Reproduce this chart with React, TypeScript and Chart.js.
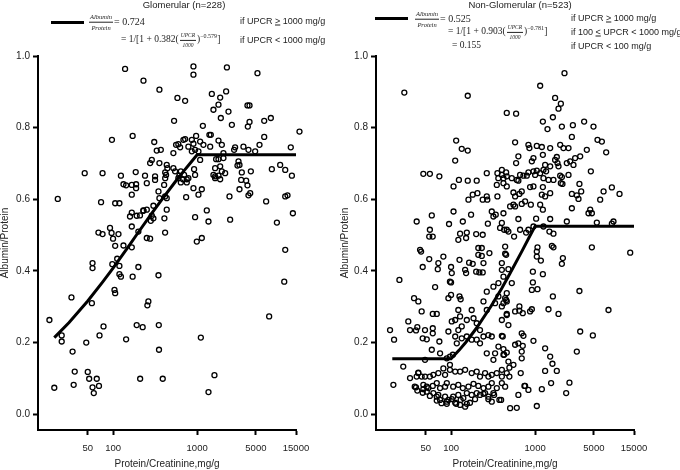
import React, { useEffect, useRef } from 'react';
import { Chart, registerables } from 'chart.js';

Chart.register(...registerables);

// axis ticks
const xTicks = [50, 100, 1000, 5000, 15000];
const yTicks = [0, 0.2, 0.4, 0.6, 0.8, 1.0];

// Glomerular (n=228): [UPCR mg/g, albumin/protein]
const glomPoints: [number, number][] = [
  [139, 0.964], [230, 0.931], [356, 0.906], [97, 0.766], [171, 0.777], [309, 0.76], [331, 0.736], [370, 0.738],
  [289, 0.71], [276, 0.701], [356, 0.701], [435, 0.696], [46, 0.673], [75, 0.673], [124, 0.666], [186, 0.676],
  [240, 0.666], [316, 0.664], [316, 0.654], [133, 0.642], [143, 0.639], [167, 0.64], [188, 0.642], [188, 0.631],
  [252, 0.645], [167, 0.613], [347, 0.622], [356, 0.603], [416, 0.608], [435, 0.603], [22, 0.601], [72, 0.592],
  [106, 0.589], [119, 0.589], [302, 0.582], [252, 0.571], [229, 0.569], [435, 0.571], [167, 0.563], [159, 0.552],
  [191, 0.554], [209, 0.555], [230, 0.568], [289, 0.554], [302, 0.547], [281, 0.54], [167, 0.524], [92, 0.52],
  [96, 0.506], [116, 0.503], [67, 0.507], [75, 0.503], [100, 0.49], [133, 0.471], [106, 0.47], [252, 0.492],
  [276, 0.49], [200, 0.51], [416, 0.507],
  [17.5, 0.263], [167, 0.466], [112, 0.434], [119, 0.414], [98, 0.419], [119, 0.391], [124, 0.384], [57, 0.422],
  [57, 0.408], [200, 0.411], [171, 0.384], [347, 0.388], [104, 0.347], [106, 0.338], [32, 0.326], [56, 0.31],
  [263, 0.315], [256, 0.304], [77, 0.245], [191, 0.249], [225, 0.243], [350, 0.249], [24.5, 0.22], [24.5, 0.203],
  [69, 0.22], [143, 0.209], [48, 0.2], [352, 0.18], [33, 0.175], [35, 0.119], [50, 0.118], [52, 0.099],
  [64, 0.099], [210, 0.099], [390, 0.099], [34, 0.082], [20, 0.074], [57, 0.075], [68, 0.079], [59, 0.059],
  [1365, 0.062],
  [904, 0.971], [904, 0.948], [2260, 0.968], [5220, 0.952], [583, 0.883], [720, 0.875], [1496, 0.894], [1880, 0.884],
  [2213, 0.901], [1563, 0.85], [1795, 0.864], [2360, 0.845], [1914, 0.827], [3970, 0.862], [4200, 0.862], [532, 0.819],
  [1170, 0.805], [2590, 0.808], [4200, 0.816], [4010, 0.803], [6280, 0.819], [7530, 0.827], [16500, 0.789], [6280, 0.774],
  [13000, 0.745], [1400, 0.78], [1455, 0.78], [973, 0.777], [865, 0.766], [720, 0.768], [687, 0.766], [598, 0.754],
  [562, 0.752], [628, 0.745], [787, 0.747], [904, 0.755], [1086, 0.761], [1188, 0.752], [946, 0.738], [865, 0.734],
  [1037, 0.734], [1430, 0.747], [1795, 0.764], [1968, 0.752], [2830, 0.745], [2755, 0.738], [3555, 0.747], [4080, 0.738],
  [4900, 0.734], [5520, 0.752], [522, 0.729], [2056, 0.729], [1683, 0.712], [1795, 0.712], [2056, 0.715],
  [1086, 0.71], [3105, 0.706], [3190, 0.696], [3020, 0.694], [443, 0.687], [417, 0.675], [427, 0.668], [417, 0.659],
  [405, 0.64], [522, 0.687], [547, 0.678], [640, 0.678], [615, 0.666], [598, 0.659], [700, 0.668], [676, 0.656],
  [753, 0.656], [640, 0.647], [753, 0.647], [946, 0.668], [920, 0.684], [1637, 0.687], [1880, 0.692], [1968, 0.678],
  [1795, 0.666], [1637, 0.664], [1563, 0.668], [2155, 0.673], [1637, 0.659], [1880, 0.656], [787, 0.659], [904, 0.631],
  [740, 0.606], [1037, 0.613], [1137, 0.628], [3400, 0.675], [4355, 0.678], [3340, 0.654], [3830, 0.652], [3970, 0.639],
  [4280, 0.617], [4080, 0.611], [3190, 0.628], [2425, 0.608], [7740, 0.684], [9720, 0.696], [11170, 0.682], [13400, 0.666],
  [6620, 0.594], [11170, 0.608], [11890, 0.611], [13770, 0.561], [8890, 0.535], [408, 0.547], [946, 0.55], [1303, 0.569],
  [1365, 0.538], [2470, 0.543], [1137, 0.492], [991, 0.482], [11170, 0.459], [17600, 0.462],
  [10870, 0.37], [7190, 0.273], [1107, 0.214], [1607, 0.109],
];

// fitted line, glomerular
const glomFit: [number, number][] = [
  [20, 0.214], [30, 0.256], [50, 0.316], [75, 0.369], [100, 0.408], [150, 0.466], [200, 0.508],
  [300, 0.566], [400, 0.606], [550, 0.649], [700, 0.68], [850, 0.704], [1000, 0.724], [15000, 0.724],
];

// Non-Glomerular (n=523)
const nonGlomPoints: [number, number][] = [
  [27.8, 0.898], [158, 0.889], [460, 0.841], [115, 0.764], [134, 0.741], [158, 0.736], [112, 0.708], [46.8, 0.671],
  [56, 0.671], [72.6, 0.664], [107, 0.636], [124, 0.654], [158, 0.652], [202, 0.652], [266, 0.673], [356, 0.673],
  [402, 0.682], [452, 0.675], [365, 0.659], [350, 0.64], [420, 0.645], [460, 0.664], [161, 0.599], [181, 0.613],
  [206, 0.617], [238, 0.599], [270, 0.599], [266, 0.608], [356, 0.608], [59, 0.555], [39, 0.538], [56, 0.515],
  [55, 0.496], [60.5, 0.496], [94.6, 0.531], [107, 0.566], [138, 0.538], [173, 0.557], [128, 0.504], [154, 0.507],
  [151, 0.492], [122, 0.487], [199, 0.503], [238, 0.501], [274, 0.532], [305, 0.566], [319, 0.552], [340, 0.557],
  [420, 0.561], [402, 0.534], [460, 0.515], [440, 0.468], [211, 0.464], [232, 0.464], [42.8, 0.459],
  [44, 0.454], [55, 0.433], [46, 0.411], [70.6, 0.422], [69.5, 0.405], [81, 0.44], [100, 0.411], [102, 0.394],
  [126, 0.431], [147, 0.403], [151, 0.394], [164, 0.423], [181, 0.42], [211, 0.445], [232, 0.442], [243, 0.422],
  [199, 0.398], [217, 0.396], [286, 0.45], [238, 0.396], [452, 0.445], [24.3, 0.375], [97, 0.37], [100, 0.368],
  [100, 0.333], [93, 0.324], [64.6, 0.355], [126, 0.329], [130, 0.321], [176, 0.291], [243, 0.315], [266, 0.342],
  [319, 0.356], [366, 0.366], [420, 0.384], [366, 0.329], [266, 0.291], [334, 0.31], [452, 0.319], [460, 0.277],
  [412, 0.217], [481, 0.249], [36.3, 0.324], [40.8, 0.315], [31, 0.259], [32.5, 0.235], [39.7, 0.243], [38.3, 0.234],
  [49, 0.235], [44.7, 0.287], [60.6, 0.28], [67.6, 0.28], [46, 0.212], [51.4, 0.209], [60.6, 0.24], [60.6, 0.226],
  [72.6, 0.203], [93, 0.231], [102, 0.259], [112, 0.263], [122, 0.235], [122, 0.291], [128, 0.273], [134, 0.245],
  [154, 0.263], [185, 0.268], [202, 0.254], [221, 0.235], [18.8, 0.235], [21, 0.208], [27, 0.133], [20.6, 0.082],
  [32.5, 0.101], [39, 0.105], [40.8, 0.116], [49, 0.152], [59, 0.18], [74, 0.17], [89, 0.156], [97, 0.161],
  [105, 0.166], [81, 0.128], [97, 0.138], [112, 0.217], [117, 0.198], [134, 0.212], [154, 0.217], [176, 0.208],
  [202, 0.208], [221, 0.198], [243, 0.217], [278, 0.221], [305, 0.217], [266, 0.17], [334, 0.17], [366, 0.189],
  [319, 0.152], [420, 0.166], [481, 0.147],
  [40.8, 0.115], [44.7, 0.105], [49, 0.105], [56, 0.105], [61.6, 0.11], [70.6, 0.115], [84.9, 0.11], [97, 0.124],
  [112, 0.119], [128, 0.119], [147, 0.124], [176, 0.115], [202, 0.119], [221, 0.105], [254, 0.115], [278, 0.105],
  [305, 0.11], [350, 0.115], [402, 0.105], [460, 0.115], [37, 0.077], [46.8, 0.082], [53.7, 0.073], [60.6, 0.079],
  [67.6, 0.087], [74, 0.073], [84.9, 0.077], [89, 0.087], [106, 0.077], [122, 0.082], [138, 0.073], [161, 0.077],
  [185, 0.085], [211, 0.079], [243, 0.073], [278, 0.077], [305, 0.087], [350, 0.073], [440, 0.077], [51.4, 0.063],
  [61.6, 0.059], [67.6, 0.049], [74, 0.04], [84.9, 0.049], [93, 0.04], [106, 0.049], [122, 0.054], [140, 0.045],
  [154, 0.059], [176, 0.054], [202, 0.059], [243, 0.057], [278, 0.049], [319, 0.059], [376, 0.04], [77, 0.031],
  [89, 0.029], [112, 0.032], [128, 0.026], [147, 0.021], [154, 0.029],
  [38.3, 0.075], [39.7, 0.066], [46.8, 0.07], [51.4, 0.077], [46, 0.06], [56, 0.051], [70.6, 0.054], [67.6, 0.038],
  [89, 0.035], [102, 0.042], [115, 0.029], [130, 0.04], [168, 0.032], [193, 0.042], [221, 0.054], [254, 0.059],
  [278, 0.042], [305, 0.035], [325, 0.054], [394, 0.04], [504, 0.017], [605, 0.018], [632, 0.054], [746, 0.079],
  [832, 0.068], [1047, 0.023], [1202, 0.07], [1549, 0.087], [2340, 0.059], [2560, 0.088], [402, 0.087],
  [2235, 0.952], [1148, 0.917], [1729, 0.883], [2023, 0.867], [1897, 0.853], [594, 0.839], [1626, 0.829], [1236, 0.817],
  [1403, 0.796], [2080, 0.803], [2812, 0.807], [3828, 0.817], [4945, 0.803], [2735, 0.774], [5520, 0.766], [6220, 0.761],
  [7000, 0.731], [4120, 0.738], [3436, 0.72], [2992, 0.715], [2612, 0.706], [2382, 0.701], [2858, 0.696], [4600, 0.678],
  [2495, 0.668], [3365, 0.643], [2735, 0.615], [3532, 0.622], [3133, 0.611], [3280, 0.601], [5940, 0.599], [8180, 0.633],
  [10090, 0.615], [6520, 0.622], [2735, 0.575], [4315, 0.561], [4520, 0.571], [4730, 0.561], [2382, 0.538], [5420, 0.535],
  [8550, 0.538], [8180, 0.532], [578, 0.759], [832, 0.752], [855, 0.743], [1047, 0.749], [1202, 0.746], [1510, 0.743],
  [1986, 0.752], [2173, 0.743], [2495, 0.743], [632, 0.72], [594, 0.701], [955, 0.715], [914, 0.706], [1236, 0.724],
  [1811, 0.718], [1729, 0.71], [1845, 0.701], [1897, 0.692], [1510, 0.692], [1315, 0.696], [1256, 0.682], [1047, 0.68],
  [955, 0.678], [832, 0.675], [662, 0.668], [726, 0.666], [796, 0.666], [528, 0.659], [402, 0.668], [420, 0.659],
  [460, 0.636], [605, 0.654], [632, 0.652], [1000, 0.668], [1148, 0.673], [1352, 0.678], [1442, 0.654], [1652, 0.654],
  [1986, 0.666], [2080, 0.662], [2023, 0.645], [2113, 0.643], [1256, 0.659], [955, 0.636], [871, 0.634], [1236, 0.634],
  [1202, 0.613], [1510, 0.617], [1315, 0.608], [693, 0.622], [650, 0.615], [578, 0.608], [552, 0.619], [760, 0.594],
  [693, 0.587], [552, 0.585], [504, 0.58], [578, 0.58], [889, 0.585], [1148, 0.585], [1236, 0.571], [1028, 0.546],
  [1510, 0.545], [632, 0.545], [383, 0.52], [428, 0.515], [481, 0.51], [662, 0.515], [781, 0.507], [832, 0.515],
  [955, 0.524], [1479, 0.51], [1652, 0.504], [562, 0.496], [1256, 0.524], [1067, 0.466], [1582, 0.47], [1652, 0.466],
  [4730, 0.466],
  [440, 0.448], [402, 0.422], [402, 0.403], [481, 0.405], [528, 0.366], [460, 0.338], [440, 0.324], [460, 0.315],
  [402, 0.301], [420, 0.31], [402, 0.263], [460, 0.28], [578, 0.287], [650, 0.301], [713, 0.282], [650, 0.289],
  [914, 0.293], [871, 0.287], [1047, 0.454], [1047, 0.44], [1170, 0.429], [2138, 0.436], [2080, 0.42], [13520, 0.451],
  [940, 0.398], [1236, 0.391], [940, 0.368], [914, 0.347], [1067, 0.349], [1626, 0.329], [3365, 0.344], [1442, 0.293],
  [1897, 0.28], [7460, 0.291], [3436, 0.231], [4860, 0.22], [3133, 0.175], [402, 0.219], [693, 0.226], [726, 0.219],
  [955, 0.205], [578, 0.194], [632, 0.198], [713, 0.191], [420, 0.182], [460, 0.172], [428, 0.166], [693, 0.175],
  [693, 0.156], [1315, 0.184], [1510, 0.161], [1607, 0.141], [1811, 0.121], [1315, 0.121], [760, 0.079], [402, 0.124],
  [552, 0.138], [494, 0.13], [494, 0.105], [674, 0.115],
];

// fitted line, non-glomerular
const nonGlomFit: [number, number][] = [
  [20, 0.155], [100, 0.155], [125, 0.179], [150, 0.201], [200, 0.24], [300, 0.302], [400, 0.351],
  [500, 0.392], [700, 0.456], [850, 0.494], [1000, 0.525], [15000, 0.525],
];

const SANS = '"Liberation Sans", Arial, sans-serif';
const SERIF = '"Liberation Serif", "Times New Roman", serif';
const INK = '#222';

Chart.defaults.font.family = SANS;

interface PanelProps {
  points: [number, number][];
  fit: [number, number][];
  yWidth: number;
  padRight: number;
}

const ScatterPanel: React.FC<PanelProps> = ({ points, fit, yWidth, padRight }) => {
  const chartRef = useRef<HTMLCanvasElement>(null);

  useEffect(() => {
    if (!chartRef.current) return;
    const chart = new Chart(chartRef.current, {
      type: 'scatter',
      data: {
        datasets: [
          {
            data: fit.map(([x, y]) => ({ x, y })),
            showLine: true,
            borderColor: '#000',
            borderWidth: 3,
            pointRadius: 0,
            borderJoinStyle: 'miter',
            clip: false,
          },
          {
            data: points.map(([x, y]) => ({ x, y })),
            pointStyle: 'circle',
            pointRadius: 2.5,
            pointBorderWidth: 1.3,
            pointBorderColor: '#000',
            pointBackgroundColor: 'rgba(0,0,0,0)',
            showLine: false,
            clip: false,
          },
        ],
      },
      options: {
        responsive: false,
        animation: false,
        events: [],
        layout: { padding: { top: 56, right: padRight, left: 0, bottom: 0 } },
        plugins: { legend: { display: false }, tooltip: { enabled: false } },
        scales: {
          x: {
            type: 'logarithmic',
            min: 12.8,
            max: 15000,
            afterBuildTicks: (s: any) => {
              s.ticks = xTicks.map(v => ({ value: v }));
            },
            afterFit: (s: any) => {
              s.height = 40;
            },
            ticks: {
              callback: (v: any) => String(v),
              font: { size: 9.5 },
              color: INK,
              padding: 8,
              autoSkip: false,
              maxRotation: 0,
            },
            grid: { display: true, drawOnChartArea: false, drawTicks: true, tickLength: 5, tickWidth: 2, tickColor: '#000' },
            border: { display: true, color: '#000', width: 2 },
            title: {
              display: true,
              text: 'Protein/Creatinine,mg/g',
              font: { size: 10 },
              color: INK,
              padding: { top: 0, bottom: 0 },
            },
          },
          y: {
            type: 'linear',
            min: -0.044,
            max: 1.0,
            afterBuildTicks: (s: any) => {
              s.ticks = yTicks.map(v => ({ value: v }));
            },
            afterFit: (s: any) => {
              s.width = yWidth;
            },
            ticks: {
              callback: (v: any) => Number(v).toFixed(1),
              font: { size: 10 },
              color: INK,
              padding: 3,
            },
            grid: { display: true, drawOnChartArea: false, drawTicks: true, tickLength: 5, tickWidth: 2, tickColor: '#000' },
            border: { display: true, color: '#000', width: 2 },
            title: {
              display: true,
              text: 'Albumin/Protein',
              font: { size: 10 },
              color: INK,
              padding: { top: -1, bottom: 0 },
            },
          },
        },
      },
    });

    return () => {
      chart.destroy();
    };
  }, [points, fit, yWidth, padRight]);

  return <canvas ref={chartRef} width={340} height={470} style={{ display: 'block', width: 340, height: 470 }} />;
};

const Txt: React.FC<{
  x: number; y: number; center?: boolean; row?: boolean; size?: number; serif?: boolean; children: React.ReactNode;
}> = ({ x, y, center, row, size = 9, serif, children }) => (
  <div
    style={{
      position: 'absolute',
      left: x,
      top: y,
      transform: center ? 'translate(-50%, -50%)' : 'translateY(-50%)',
      whiteSpace: 'pre',
      fontSize: size,
      lineHeight: 1,
      fontFamily: serif ? SERIF : SANS,
      display: row ? 'flex' : 'block',
      alignItems: 'center',
      color: INK,
    }}
  >
    {children}
  </div>
);

const Frac: React.FC<{ num: string; den: string; size: number }> = ({ num, den, size }) => (
  <span
    style={{
      display: 'inline-flex',
      flexDirection: 'column',
      alignItems: 'center',
      fontStyle: 'italic',
      fontFamily: SERIF,
      fontSize: size,
      lineHeight: 1.2,
      margin: '0 1px',
    }}
  >
    <span style={{ borderBottom: `0.8px solid ${INK}`, padding: '0 1px 1px' }}>{num}</span>
    <span style={{ paddingTop: 1 }}>{den}</span>
  </span>
);

const Sup: React.FC<{ children: React.ReactNode }> = ({ children }) => (
  <span style={{ fontSize: 6, position: 'relative', top: -4 }}>{children}</span>
);

const Swatch: React.FC<{ x: number; y: number; w: number }> = ({ x, y, w }) => (
  <div style={{ position: 'absolute', left: x, top: y - 1.5, width: w, height: 3, background: '#000' }} />
);

export default function App() {
  return (
    <div
      style={{
        position: 'fixed',
        left: 0,
        top: 0,
        width: 680,
        height: 470,
        background: '#fff',
        overflow: 'hidden',
        fontFamily: SANS,
        color: INK,
      }}
    >
      <div style={{ position: 'absolute', left: 0, top: 0 }}>
        <ScatterPanel points={glomPoints} fit={glomFit} yWidth={38} padRight={44} />
      </div>
      <div style={{ position: 'absolute', left: 340, top: 0 }}>
        <ScatterPanel points={nonGlomPoints} fit={nonGlomFit} yWidth={36} padRight={46} />
      </div>

      {/* left header */}
      <Txt x={184} y={5} center size={9.5}>Glomerular (n=228)</Txt>
      <Swatch x={51} y={22} w={33} />
      <Txt x={88} y={22} row serif size={10}>
        <Frac num="Albumin" den="Protein" size={6.5} />
        <span>= 0.724</span>
      </Txt>
      <Txt x={240} y={21}>if UPCR <u>&gt;</u> 1000 mg/g</Txt>
      <Txt x={121} y={40} row serif size={9.5}>
        <span>= 1/[1 + 0.382(</span>
        <Frac num="UPCR" den="1000" size={5.5} />
        <span>)</span>
        <Sup>−0.579</Sup>
        <span>]</span>
      </Txt>
      <Txt x={240} y={40}>if UPCR &lt; 1000 mg/g</Txt>

      {/* right header */}
      <Txt x={520} y={5} center size={9.5}>Non-Glomerular (n=523)</Txt>
      <Swatch x={375} y={18} w={33} />
      <Txt x={414} y={19} row serif size={10}>
        <Frac num="Albumin" den="Protein" size={6.5} />
        <span>= 0.525</span>
      </Txt>
      <Txt x={571} y={18}>if UPCR <u>&gt;</u> 1000 mg/g</Txt>
      <Txt x={448} y={32} row serif size={9.5}>
        <span>= 1/[1 + 0.903(</span>
        <Frac num="UPCR" den="1000" size={5.5} />
        <span>)</span>
        <Sup>−0.781</Sup>
        <span>]</span>
      </Txt>
      <Txt x={571} y={32}>if 100 <u>&lt;</u> UPCR &lt; 1000 mg/g</Txt>
      <Txt x={452} y={46} serif size={9.5}>= 0.155</Txt>
      <Txt x={571} y={46}>if UPCR &lt; 100 mg/g</Txt>
    </div>
  );
}
